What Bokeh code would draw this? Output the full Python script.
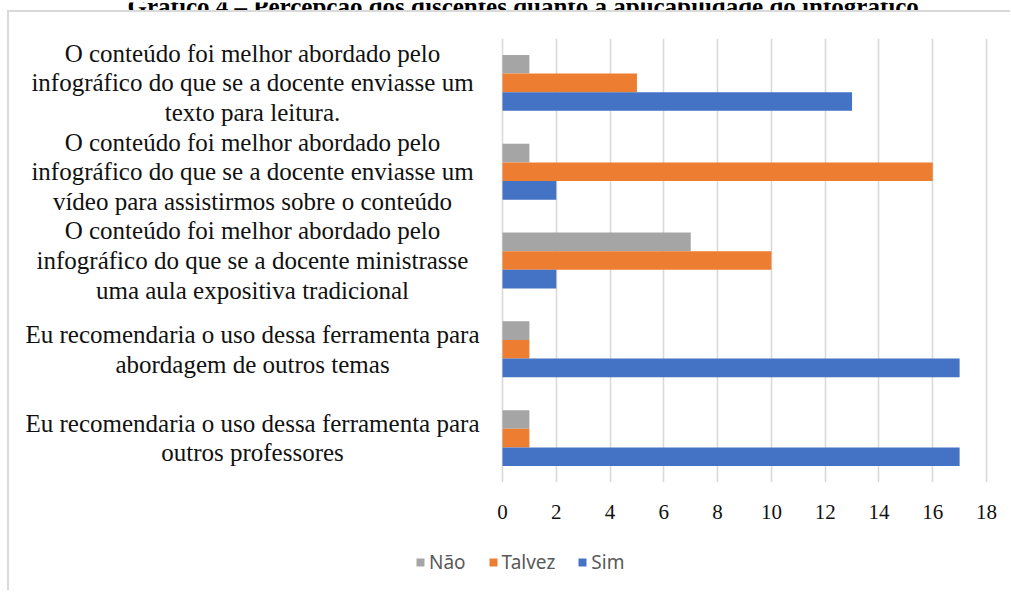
from bokeh.plotting import figure
from bokeh.layouts import column
from bokeh.models import (ColumnDataSource, FixedTicker, Legend, LegendItem,
                          Label, Range1d)
from bokeh.core.properties import value
from bokeh.embed import file_html
from bokeh.resources import INLINE

# ---------------- data ----------------
title_text = "Gráfico 4 – Percepção dos discentes quanto à aplicabilidade do infográfico."
categories = [
    "O conteúdo foi melhor abordado pelo\ninfográfico do que se a docente enviasse um\ntexto para leitura.",
    "O conteúdo foi melhor abordado pelo\ninfográfico do que se a docente enviasse um\nvídeo para assistirmos sobre o conteúdo",
    "O conteúdo foi melhor abordado pelo\ninfográfico do que se a docente ministrasse\numa aula expositiva tradicional",
    "Eu recomendaria o uso dessa ferramenta para\nabordagem de outros temas",
    "Eu recomendaria o uso dessa ferramenta para\noutros professores",
]
series_names = ["Não", "Talvez", "Sim"]
nao = [1, 1, 7, 1, 1]
talvez = [5, 16, 10, 1, 1]
sim = [13, 2, 2, 17, 17]
x_ticks = [0, 2, 4, 6, 8, 10, 12, 14, 16, 18]
colors = ["#a5a5a5", "#ed7d31", "#4472c4"]

# ---------------- layout ----------------
W, HT, H, HL = 1010, 10, 530, 50
LB, RB, TB, BB = 20, 0, 28, 58
X0 = 502.0              # canvas x of value 0
PX = 484.0 / 18.0       # px per unit
frame_w = W - LB - RB
frame_h = H - TB - BB
x_start = -(X0 - LB) / PX
x_end = x_start + frame_w / PX
n = len(categories)
PY = frame_h / n

ypos = [n - i - 0.5 for i in range(n)]
bh = 0.21

# ---------------- title strip (cut at the top, as in the source) ----------------
pt = figure(width=W, height=HT, output_backend="svg", toolbar_location=None,
            x_range=Range1d(0, W), y_range=Range1d(0, HT),
            x_axis_location=None, y_axis_location=None, min_border=0)
pt.grid.visible = False
pt.outline_line_color = None
pt.background_fill_color = None
pt.border_fill_color = None
pt.add_layout(Label(x=516, y=HT - 4, text=title_text,
                    text_align="center", text_baseline="alphabetic",
                    text_font="Liberation Serif", text_font_style="bold",
                    text_font_size="25px", text_color="#000000"))

# ---------------- main chart ----------------
p = figure(width=W, height=H, output_backend="svg", toolbar_location=None,
           x_range=Range1d(x_start, x_end), y_range=Range1d(0, n),
           y_axis_location=None,
           min_border_left=LB, min_border_right=RB,
           min_border_top=TB, min_border_bottom=BB)
p.background_fill_color = "white"
p.border_fill_color = None
p.outline_line_color = None

p.xaxis.ticker = FixedTicker(ticks=x_ticks)
p.xaxis.axis_line_color = None
p.xaxis.major_tick_line_color = None
p.xaxis.minor_tick_line_color = None
p.xaxis.major_tick_out = 0
p.xaxis.major_tick_in = 0
p.xaxis.minor_tick_out = 0
p.xaxis.major_label_standoff = 22
p.xaxis.major_label_text_font = "Liberation Serif"
p.xaxis.major_label_text_font_size = "21px"
p.xaxis.major_label_text_color = "#111111"
p.xgrid.ticker = FixedTicker(ticks=x_ticks)
p.xgrid.grid_line_color = "#d9d9d9"
p.xgrid.grid_line_width = 1.6
p.ygrid.visible = False

src = ColumnDataSource(dict(
    y=ypos,
    y_nao=[y + bh for y in ypos],
    y_talvez=ypos,
    y_sim=[y - bh for y in ypos],
    nao=nao, talvez=talvez, sim=sim,
    label=categories,
))

p.hbar(y="y_nao", left=0, right="nao", height=bh, source=src,
       fill_color=colors[0], line_color=None)
p.hbar(y="y_talvez", left=0, right="talvez", height=bh, source=src,
       fill_color=colors[1], line_color=None)
p.hbar(y="y_sim", left=0, right="sim", height=bh, source=src,
       fill_color=colors[2], line_color=None)

label_x = (252 - X0) / PX
p.text(x=label_x, y="y", text="label", source=src,
       text_align="center", text_baseline="middle",
       text_font=value("Liberation Serif"), text_font_size=value("25px"),
       text_color="#111111", text_line_height=1.1)

# ---------------- legend strip ----------------
pl = figure(width=W, height=HL, output_backend="svg", toolbar_location=None,
            x_range=Range1d(0, W), y_range=Range1d(0, HL),
            x_axis_location=None, y_axis_location=None, min_border=0)
pl.grid.visible = False
pl.outline_line_color = None
pl.background_fill_color = None
pl.border_fill_color = None
# zero-size swatch carriers for the legend
swatches = [pl.hbar(y=[0], left=[0], right=[0], height=0,
                    fill_color=c, line_color=None) for c in colors]
legend = Legend(items=[LegendItem(label=s, renderers=[r])
                       for s, r in zip(series_names, swatches)],
                orientation="horizontal", location=(395, 15),
                glyph_width=10, glyph_height=10, label_standoff=4, spacing=22,
                padding=0, margin=0, border_line_color=None,
                background_fill_alpha=0, label_text_font="Noto Sans",
                label_text_font_size="19px", label_text_color="#595959",
                label_height=20)
pl.add_layout(legend)

layout = column(pt, p, pl, spacing=0)
# outer chart box (only its top and left edges are inside the picture)
layout.styles = {
    "background-color": "white",
    "background-image": "linear-gradient(#d9d9d9, #d9d9d9), linear-gradient(#d9d9d9, #d9d9d9)",
    "background-position": "7px 10px, 7px 10px",
    "background-size": "2px 100%, 100% 2px",
    "background-repeat": "no-repeat",
}

open("out.html", "w").write(file_html(layout, INLINE))
